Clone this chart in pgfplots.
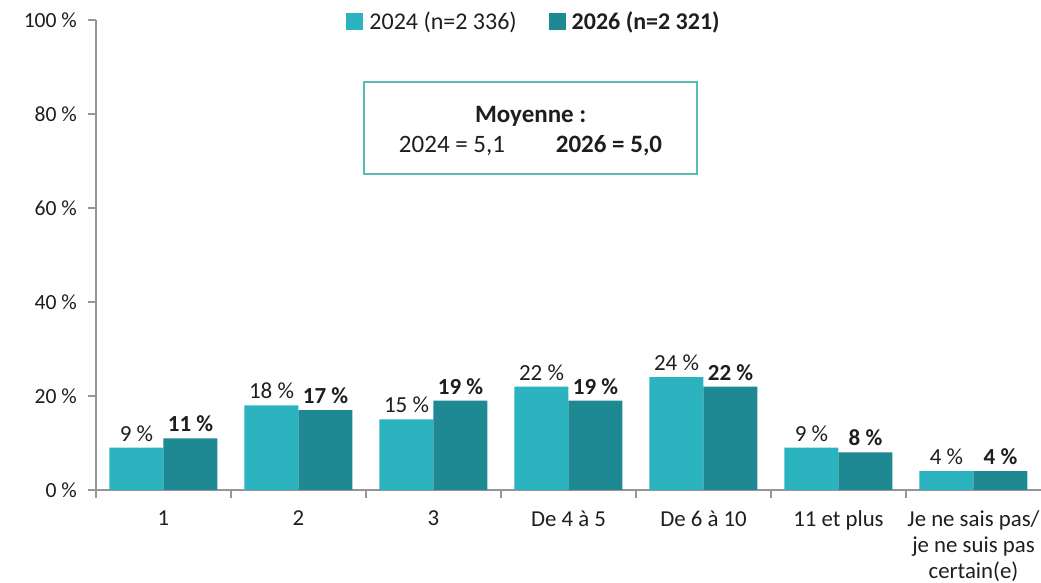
\documentclass[border=0pt]{standalone}
\usepackage{pgfplots}
\pgfplotsset{compat=1.18}
\usepackage{fontspec}
\setmainfont{Carlito}
\definecolor{c24}{RGB}{43,180,192}
\definecolor{c26}{RGB}{30,137,147}
\definecolor{axgray}{RGB}{150,150,150}
\definecolor{boxc}{RGB}{95,185,180}
\definecolor{txt}{RGB}{30,30,30}
\begin{document}
\begin{tikzpicture}[font=\fontsize{10.8}{13}\selectfont, text=txt]
\begin{axis}[
  scale only axis, width=472.5pt, height=235pt,
  at={(0,0)}, anchor=south west,
  xmin=-0.5, xmax=6.5, ymin=0, ymax=100,
  axis x line*=bottom, axis y line*=left,
  axis line style={axgray, line width=0.6pt},
  tick align=outside,
  major tick length=4pt, minor tick length=4pt,
  ytick={0,20,40,60,80,100},
  yticklabels={0 \%,20 \%,40 \%,60 \%,80 \%,100 \%},
  ytick style={axgray, line width=0.6pt},
  yticklabel style={xshift=-2pt, font=\fontsize{10.8}{13}\selectfont},
  xtick={0,1,2,3,4,5,6},
  xticklabels={1,2,3,De 4 à 5,De 6 à 10,11 et plus,{Je ne sais pas/\\je ne suis pas\\certain(e)}},
  xticklabel style={align=center, anchor=north, yshift=-3pt, font=\fontsize{11.4}{13}\selectfont},
  major x tick style={draw=none},
  minor xtick={-0.5,0.5,1.5,2.5,3.5,4.5,5.5},
  minor x tick style={draw=axgray, line width=0.6pt},
  ybar=0pt, bar width=0.4,
  nodes near coords, point meta=explicit symbolic,
  every node near coord/.append style={text=txt, font=\fontsize{11.5}{13}\selectfont, inner sep=3pt},
  legend columns=2,
  legend style={at={(0.4646,0.9957)}, anchor=center, draw=none, fill=none,
    font=\fontsize{12}{14}\selectfont,
    /tikz/every odd column/.append style={column sep=1pt},
    /tikz/every even column/.append style={column sep=14pt}},
  legend image code/.code={\fill[#1] (0pt,-4pt) rectangle (8.5pt,4.5pt);},
]
\addplot[fill=c24, draw=none, bar shift=-0.2] coordinates {
  (0,9)[9 \%] (1,18)[18 \%] (2,15)[15 \%] (3,22)[22 \%]
  (4,24)[24 \%] (5,9)[9 \%] (6,4)[4 \%]};
\addplot[fill=c26, draw=none, bar shift=0.2,
  every node near coord/.append style={font=\fontsize{11.5}{13}\selectfont\bfseries}] coordinates {
  (0,11)[11 \%] (1,17)[17 \%] (2,19)[19 \%] (3,19)[19 \%]
  (4,22)[22 \%] (5,8)[8 \%] (6,4)[4 \%]};
\legend{2024 (n=2 336),\textbf{2026 (n=2 321)}}
\draw[boxc, line width=0.8pt] (axis cs:1.485,67.2) rectangle (axis cs:3.952,86.8);
\node[font=\fontsize{12.5}{14}\selectfont\bfseries] at (axis cs:2.72,79.6) {Moyenne :};
\node[font=\fontsize{12.5}{14}\selectfont] at (axis cs:2.137,73.2) {2024 = 5,1};
\node[font=\fontsize{12.5}{14}\selectfont\bfseries] at (axis cs:3.30,73.2) {2026 = 5,0};
\end{axis}
\pgfresetboundingbox
\path[use as bounding box] (-48pt,-46.5pt) rectangle (472.5pt,245pt);
\end{tikzpicture}
\end{document}
